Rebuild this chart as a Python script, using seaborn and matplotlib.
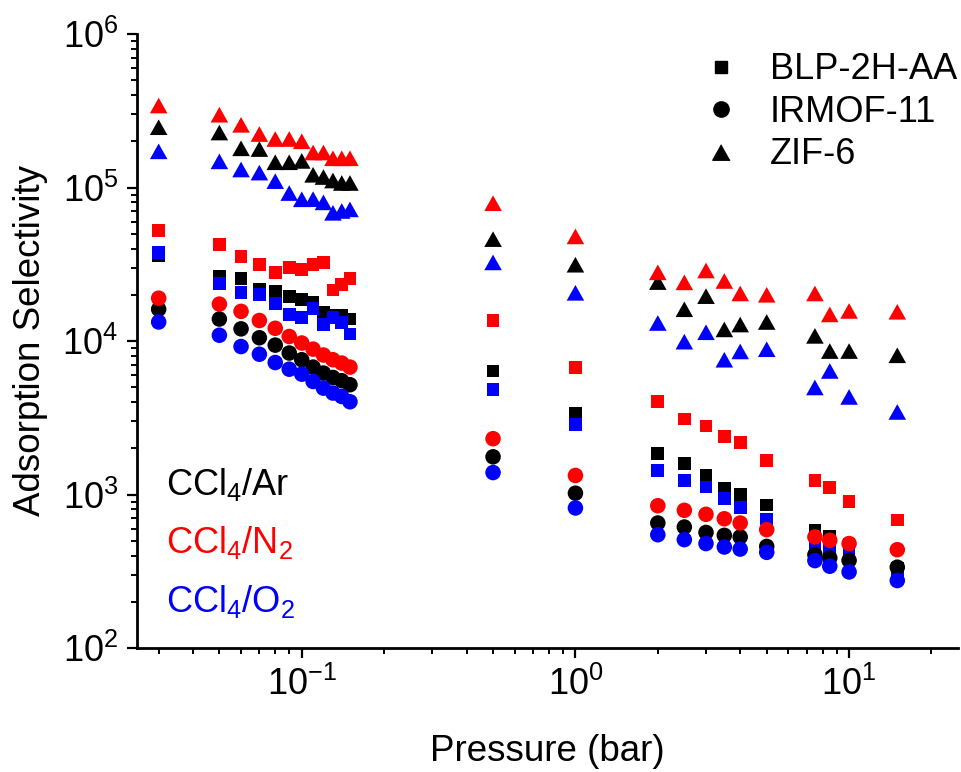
import matplotlib
matplotlib.use("Agg")
import matplotlib.pyplot as plt
import numpy as np
import pandas as pd
import seaborn as sns
from matplotlib.lines import Line2D

# ---------------- data ----------------
pressure = [0.03, 0.05, 0.06, 0.07, 0.08, 0.09, 0.10, 0.11, 0.12, 0.13, 0.14, 0.15,
            0.5, 1.0, 2.0, 2.5, 3.0, 3.5, 4.0, 5.0, 7.5, 8.5, 10.0, 15.0]

materials = ["BLP-2H-AA", "IRMOF-11", "ZIF-6"]
gases = ["CCl$_4$/Ar", "CCl$_4$/N$_2$", "CCl$_4$/O$_2$"]
gas_colors = ["#000000", "#FF0000", "#0000FF"]

# BLP-2H-AA (squares)
blp_ar = [36000, 26300, 25600, 21800, 21000, 19600, 18700, 17900, 15300, 14700, 14600, 13900,
          6370, 3360, 1850, 1600, 1340, 1100, 1000, 855, 587, 537, 470, 330]
blp_n2 = [52600, 42600, 35500, 31600, 27900, 30100, 29300, 31600, 32400, 21500, 23400, 25600,
          13600, 6690, 4040, 3100, 2790, 2380, 2170, 1660, 1240, 1110, 898, 682]
blp_o2 = [37900, 23800, 20700, 20000, 17500, 14900, 14200, 16200, 12800, 14200, 13200, 11100,
          4830, 2870, 1440, 1240, 1120, 938, 824, 692, 467, 441, 405, 300]

# IRMOF-11 (circles)
irmof_ar = [16100, 13900, 12000, 10500, 9400, 8350, 7550, 6760, 6180, 5790, 5510, 5190,
            1760, 1020, 652, 614, 566, 542, 529, 459, 405, 386, 372, 336]
irmof_n2 = [19000, 17400, 15600, 13600, 12100, 10700, 9700, 8850, 8100, 7550, 7180, 6760,
            2310, 1330, 845, 789, 743, 695, 652, 590, 529, 503, 479, 437]
irmof_o2 = [13300, 10900, 9200, 8200, 7240, 6550, 6080, 5450, 4930, 4580, 4350, 4020,
            1390, 817, 547, 508, 479, 455, 441, 420, 371, 341, 313, 275]

# ZIF-6 (triangles)
zif_ar = [247000, 228000, 180000, 178000, 146000, 146000, 149000, 121000, 117000, 111000, 107000, 107000,
          46100, 31400, 24200, 16100, 19600, 11900, 12800, 13300, 10800, 8600, 8600, 8070]
zif_n2 = [342000, 298000, 256000, 223000, 207000, 207000, 200000, 169000, 169000, 155000, 155000, 155000,
          79000, 48000, 28000, 24100, 28800, 24600, 20400, 20000, 20400, 14900, 15700, 15500]
zif_o2 = [172000, 148000, 131000, 125000, 110000, 92000, 83800, 84000, 80000, 68400, 70300, 72000,
          32500, 20600, 13100, 9900, 11400, 7550, 8550, 8840, 4980, 6380, 4320, 3450]

series = {
    "BLP-2H-AA": [blp_ar, blp_n2, blp_o2],
    "IRMOF-11": [irmof_ar, irmof_n2, irmof_o2],
    "ZIF-6": [zif_ar, zif_n2, zif_o2],
}

rows = []
for mat in materials:
    for gas, vals in zip(gases, series[mat]):
        for p, v in zip(pressure, vals):
            rows.append({"material": mat, "gas": gas, "pressure": p, "selectivity": v})
df = pd.DataFrame(rows)

# ---------------- style ----------------
sns.set_style("ticks")
plt.rcParams["font.family"] = ["Liberation Sans", "DejaVu Sans"]
plt.rcParams["mathtext.fontset"] = "custom"
plt.rcParams["mathtext.rm"] = "Liberation Sans"
plt.rcParams["mathtext.it"] = "Liberation Sans:italic"
plt.rcParams["mathtext.bf"] = "Liberation Sans:bold"
plt.rcParams["axes.unicode_minus"] = False
plt.rcParams["text.color"] = "black"
plt.rcParams["axes.labelcolor"] = "black"
plt.rcParams["xtick.color"] = "black"
plt.rcParams["ytick.color"] = "black"

fig = plt.figure(figsize=(9.62, 7.72), dpi=100)
ax = fig.add_axes([137 / 962, 124 / 772, 821 / 962, 614 / 772])
ax.set_xscale("log")
ax.set_yscale("log")

tri = [(0.0, 0.89), (-1.0, -0.89), (1.0, -0.89)]
marker_map = {"BLP-2H-AA": ("s", 84), "IRMOF-11": ("o", 125), "ZIF-6": (tri, 160)}
palette = dict(zip(gases, gas_colors))

for mat in materials:
    mk, size = marker_map[mat]
    sub = df[df["material"] == mat]
    sns.scatterplot(data=sub, x="pressure", y="selectivity", hue="gas",
                    hue_order=gases, palette=palette, marker=mk, s=size,
                    linewidth=0, edgecolor="none", legend=False, ax=ax)

ax.set_xlim(0.025, 25)
ax.set_ylim(1e2, 1e6)

sns.despine(ax=ax)
for side in ["left", "bottom"]:
    ax.spines[side].set_linewidth(2.0)
    ax.spines[side].set_color("black")

ax.tick_params(which="major", direction="out", length=7.5, width=1.6,
               labelsize=26, pad=6, color="black", labelcolor="black")
ax.tick_params(which="minor", direction="out", length=4, width=1.4, color="black")

ax.set_xlabel("Pressure (bar)", fontsize=26.5, labelpad=22, color="black")
ax.set_ylabel("Adsorption Selectivity", fontsize=26.5, labelpad=10, color="black")

# gas-pair annotations
for (label, col, yfrac) in zip(gases, gas_colors, [0.249, 0.154, 0.059]):
    ax.text(0.035, yfrac, label, transform=ax.transAxes, color=col,
            fontsize=26, va="baseline", ha="left")

# material legend (marker shapes in black)
handles = [
    Line2D([], [], marker="s", color="black", linestyle="none", markersize=9),
    Line2D([], [], marker="o", color="black", linestyle="none", markersize=11),
    Line2D([], [], marker=tri, color="black", linestyle="none", markersize=12.5),
]
leg = ax.legend(handles, materials, loc="upper right", bbox_to_anchor=(1.01, 0.985),
                frameon=False, fontsize=26, handlelength=1.0, handletextpad=0.85,
                labelspacing=0.21, borderaxespad=0, borderpad=0.25)
for t in leg.get_texts():
    t.set_color("black")

fig.savefig("out.png", dpi=100)
